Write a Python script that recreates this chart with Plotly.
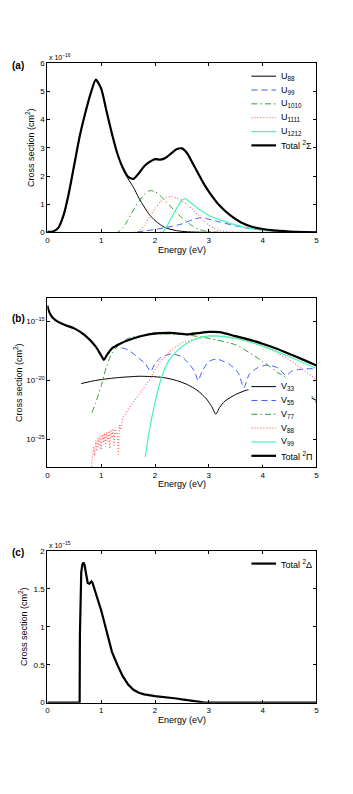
import plotly.graph_objects as go

# ---------------- Panel (a): 2Sigma, units of 1e-16 cm^2 ----------------
a_total_x = [0, 0.1, 0.2, 0.3, 0.4, 0.5, 0.6, 0.7, 0.8, 0.9, 1.0, 1.1, 1.2, 1.3, 1.4, 1.5, 1.6, 1.7, 1.8, 1.9,
             2.0, 2.1, 2.2, 2.3, 2.4, 2.5, 2.6, 2.7, 2.8, 2.9, 3.0, 3.2, 3.4, 3.6, 3.8, 4.0, 4.2, 4.5, 4.8, 5.0]
a_total_y = [0.02, 0.03, 0.15, 0.6, 1.4, 2.4, 3.4, 4.2, 4.9, 5.42, 5.1, 4.3, 3.5, 2.8, 2.3, 1.97, 1.9, 2.1, 2.35, 2.5,
             2.6, 2.58, 2.65, 2.8, 2.95, 2.98, 2.8, 2.45, 2.1, 1.75, 1.45, 0.95, 0.6, 0.35, 0.2, 0.12, 0.07, 0.03, 0.01, 0.0]

u88_x = [0, 0.1, 0.2, 0.3, 0.4, 0.5, 0.6, 0.7, 0.8, 0.9, 1.0, 1.1, 1.2, 1.3, 1.4, 1.5, 1.6, 1.7, 1.8, 1.9,
         2.0, 2.1, 2.2, 2.4, 2.6, 3.0, 5.0]
u88_y = [0.02, 0.03, 0.15, 0.6, 1.4, 2.4, 3.4, 4.2, 4.9, 5.42, 5.1, 4.3, 3.5, 2.8, 2.28, 1.9, 1.6, 1.22, 0.9, 0.62,
         0.42, 0.27, 0.16, 0.06, 0.02, 0.0, 0.0]

u99_x = [0, 1.6, 1.8, 2.0, 2.2, 2.5, 2.7, 2.85, 3.0, 3.2, 3.5, 3.8, 4.2, 4.6, 5.0]
u99_y = [0, 0.0, 0.05, 0.1, 0.17, 0.3, 0.45, 0.52, 0.47, 0.37, 0.23, 0.12, 0.05, 0.0, 0.0]

u1010_x = [0, 1.3, 1.4, 1.5, 1.6, 1.7, 1.8, 1.9, 2.0, 2.1, 2.2, 2.3, 2.4, 2.5, 2.6, 2.7, 2.8, 2.9, 3.0, 3.2, 5.0]
u1010_y = [0, 0.0, 0.15, 0.45, 0.8, 1.1, 1.35, 1.48, 1.45, 1.3, 1.1, 0.9, 0.7, 0.52, 0.36, 0.22, 0.12, 0.06, 0.03, 0.0, 0.0]

u1111_x = [0, 1.6, 1.7, 1.8, 1.9, 2.0, 2.1, 2.2, 2.3, 2.4, 2.5, 2.6, 2.7, 2.8, 2.9, 3.0, 3.1, 3.2, 3.4, 5.0]
u1111_y = [0, 0.0, 0.05, 0.25, 0.55, 0.85, 1.08, 1.24, 1.27, 1.22, 1.12, 0.98, 0.8, 0.6, 0.42, 0.26, 0.14, 0.07, 0.01, 0.0]

u1212_x = [0, 2.1, 2.15, 2.2, 2.3, 2.4, 2.5, 2.55, 2.6, 2.7, 2.8, 2.9, 3.0, 3.2, 3.4, 3.6, 3.8, 4.0, 4.2, 4.5, 5.0]
u1212_y = [0, 0.0, 0.02, 0.15, 0.5, 0.85, 1.15, 1.2, 1.15, 1.0, 0.85, 0.72, 0.6, 0.45, 0.32, 0.21, 0.13, 0.08, 0.04, 0.01, 0.0]

a_names = ["U<sub>88</sub>", "U<sub>99</sub>", "U<sub>1010</sub>", "U<sub>1111</sub>", "U<sub>1212</sub>",
           "Total <sup>2</sup>Σ"]

# ---------------- Panel (b): 2Pi, log10 of cross section ----------------
b_total_x = [0, 0.02, 0.05, 0.1, 0.2, 0.35, 0.5, 0.7, 0.9, 1.0, 1.05, 1.1, 1.2, 1.35, 1.5, 1.75, 2.0, 2.3, 2.6, 2.8,
             3.0, 3.2, 3.5, 3.75, 4.0, 4.25, 4.5, 4.75, 5.0]
b_total_e = [-13.66, -14.0, -14.36, -14.7, -15.05, -15.35, -15.6, -16.2, -17.15, -17.9, -18.27, -17.9, -17.3, -16.9,
             -16.6, -16.25, -16.03, -15.98, -16.1, -16.0, -15.9, -15.92, -16.26, -16.55, -16.9, -17.3, -17.77, -18.25, -18.75]

v33_x = [0.63, 0.8, 1.0, 1.3, 1.7, 2.0, 2.2, 2.4, 2.6, 2.8, 2.95, 3.05, 3.13, 3.2, 3.3, 3.5, 3.7, 4.0, 4.5, 4.9, 5.0]
v33_e = [-20.28, -20.1, -19.94, -19.78, -19.66, -19.7, -19.8, -20.02, -20.36, -20.9, -21.55, -22.2, -22.88, -22.3,
         -21.76, -21.2, -20.84, -20.6, -20.9, -21.5, -21.7]

v55_x = [1.2, 1.3, 1.5, 1.7, 1.82, 1.92, 2.0, 2.1, 2.3, 2.5, 2.65, 2.74, 2.8, 2.88, 3.0, 3.15, 3.4, 3.55, 3.65, 3.75,
         3.9, 4.1, 4.3, 4.43, 4.55, 4.75, 5.0]
v55_e = [-17.2, -17.15, -17.43, -18.13, -18.6, -19.25, -18.6, -18.1, -17.77, -18.0, -18.7, -19.3, -20.03, -19.2, -18.4,
         -18.2, -18.7, -19.4, -20.64, -19.5, -18.95, -18.7, -19.0, -19.6, -19.2, -19.05, -19.0]

v77_x = [0.83, 0.9, 1.0, 1.1, 1.2, 1.3, 1.5, 2.0, 2.5, 3.0, 3.5, 4.0, 4.3, 4.4, 4.6, 4.8, 4.95, 5.0]
v77_e = [-22.74, -21.9, -20.5, -18.8, -17.7, -17.15, -16.45, -16.1, -16.1, -16.45, -17.0, -18.4, -19.4, -19.66,
         -20.5, -21.0, -21.5, -22.1]

v88_x = [0.82, 0.84, 0.86, 0.88, 0.90, 0.92, 0.94, 0.96, 0.98, 1.00, 1.02, 1.04, 1.06, 1.08, 1.10, 1.12, 1.14, 1.16,
         1.18, 1.20, 1.22, 1.24, 1.26, 1.28, 1.30, 1.32, 1.34, 1.36, 1.38, 1.40, 1.45, 1.5, 1.7, 1.9, 2.0, 2.1, 2.3,
         2.5, 2.8, 3.0, 3.3, 3.6, 4.0, 4.5, 5.0]
v88_e = [-27.3, -26.2, -25.6, -26.4, -25.1, -26.0, -24.9, -25.7, -24.7, -25.9, -24.6, -25.3, -24.5, -25.6, -24.4,
         -25.2, -24.3, -25.8, -24.2, -24.9, -24.1, -25.5, -24.0, -24.6, -24.5, -26.3, -23.8, -24.2, -23.5, -23.2,
         -22.9, -22.46, -21.2, -19.94, -19.1, -18.4, -17.43, -16.82, -16.45, -16.26, -16.26, -16.45, -17.0, -18.27, -19.94]

v99_x = [1.82, 1.9, 2.0, 2.1, 2.2, 2.3, 2.5, 2.7, 2.9, 3.1, 3.5, 4.0, 4.5, 5.0]
v99_e = [-26.5, -24.13, -21.9, -20.08, -18.83, -18.04, -17.15, -16.6, -16.3, -16.23, -16.45, -17.1, -18.0, -19.0]

b_names = ["V<sub>33</sub>", "V<sub>55</sub>", "V<sub>77</sub>", "V<sub>88</sub>", "V<sub>99</sub>",
           "Total <sup>2</sup>Π"]

# ---------------- Panel (c): 2Delta, units of 1e-15 cm^2 ----------------
c_x = [0, 0.6, 0.605, 0.615, 0.63, 0.65, 0.67, 0.69, 0.71, 0.73, 0.75, 0.78, 0.8, 0.82, 0.84, 0.86, 0.9, 0.95, 1.0,
       1.05, 1.1, 1.2, 1.3, 1.4, 1.5, 1.6, 1.7, 1.8, 2.0, 2.2, 2.4, 2.5, 2.6, 2.7, 2.8, 2.9, 3.0, 5.0]
c_y = [0, 0.0, 0.9, 1.62, 1.72, 1.82, 1.85, 1.82, 1.72, 1.62, 1.58, 1.57, 1.59, 1.6, 1.58, 1.54, 1.45, 1.33, 1.22,
       1.08, 0.93, 0.67, 0.5, 0.35, 0.24, 0.17, 0.13, 0.11, 0.087, 0.074, 0.055, 0.043, 0.032, 0.02, 0.01, 0.004, 0.0, 0.0]
c_names = ["Total <sup>2</sup>Δ"]

x_ticks = [0, 1, 2, 3, 4, 5]
a_ticks = [0, 1, 2, 3, 4, 5, 6]
b_ticks_exp = [-25, -20, -15]
c_ticks = [0, 0.5, 1, 1.5, 2]
c_ticktext = ["0", "0.5", "1", "1.5", "2"]

BLUE = "#3a5cff"
GREEN = "#2ca02c"
RED = "#ff6b6b"
CYAN = "#45f5b0"
FONT = "Liberation Sans"
W, H = 353, 794

DOT = "1px,2px"
DASH = "6px,4px"
DASHDOT = "6px,3px,1.5px,3px"

styles = [("black", 1, "solid"), (BLUE, 1, DASH), (GREEN, 1, DASHDOT), (RED, 1.2, DOT), (CYAN, 1.2, "solid"),
          ("black", 2.2, "solid")]

fig = go.Figure()


def add(x, y, st, xa, ya, spline=True):
    color, width, dash = st
    line = dict(color=color, width=width, dash=dash)
    if spline:
        line.update(shape="spline", smoothing=0.6)
    fig.add_trace(go.Scatter(x=x, y=y, mode="lines", line=line, xaxis=xa, yaxis=ya, showlegend=False,
                             hoverinfo="skip"))


def p10(e):
    return [10.0 ** v for v in e]


# panel a
for (xs, ys), st in zip([(u88_x, u88_y), (u99_x, u99_y), (u1010_x, u1010_y), (u1111_x, u1111_y),
                          (u1212_x, u1212_y), (a_total_x, a_total_y)], styles):
    add(xs, ys, st, "x", "y")

# panel b
for (xs, es), st in zip([(v33_x, v33_e), (v55_x, v55_e), (v77_x, v77_e), (v88_x, v88_e),
                          (v99_x, v99_e), (b_total_x, b_total_e)], styles):
    add(xs, p10(es), st, "x2", "y2", spline=(xs is not v88_x))

# panel c
add(c_x, c_y, ("black", 2.2, "solid"), "x3", "y3", spline=False)

XD = [0.1303, 0.9037]
DOM_A = [0.7091, 0.9244]
DOM_B = [0.4102, 0.6251]
DOM_C = [0.1100, 0.3031]

axis_common = dict(showline=True, linecolor="black", linewidth=1, mirror="allticks", ticks="inside",
                   ticklen=3, tickcolor="black", showgrid=False, zeroline=False,
                   tickfont=dict(size=8, family=FONT, color="black"))


def xaxis(anchor):
    return dict(axis_common, domain=XD, anchor=anchor, range=[0, 5], tickvals=x_ticks,
                title=dict(text="Energy (eV)", font=dict(size=9, family=FONT, color="black"), standoff=2))


fig.update_layout(
    width=W, height=H, margin=dict(l=0, r=0, t=0, b=0),
    paper_bgcolor="white", plot_bgcolor="white",
    font=dict(family=FONT, color="black"),
    xaxis=xaxis("y"), xaxis2=xaxis("y2"), xaxis3=xaxis("y3"),
    yaxis=dict(axis_common, domain=DOM_A, anchor="x", range=[0, 6], tickvals=a_ticks,
               title=dict(text="Cross section (cm<sup>2</sup>)", font=dict(size=9, family=FONT), standoff=4)),
    yaxis2=dict(axis_common, domain=DOM_B, anchor="x2", type="log", range=[-27.35, -13.05],
                tickvals=[10.0 ** e for e in b_ticks_exp],
                ticktext=["10<sup>−%d</sup>" % (-e) for e in b_ticks_exp],
                title=dict(text="Cross section (cm<sup>2</sup>)", font=dict(size=9, family=FONT), standoff=2)),
    yaxis3=dict(axis_common, domain=DOM_C, anchor="x3", range=[0, 2], tickvals=c_ticks, ticktext=c_ticktext,
                title=dict(text="Cross section (cm<sup>2</sup>)", font=dict(size=9, family=FONT), standoff=4)),
    showlegend=False,
)

# white legend background in panel (b), covering the curves beneath it
fig.add_shape(type="rect", xref="paper", yref="paper", x0=250 / W, x1=314 / W, y0=1 - 466 / H, y1=1 - 379 / H,
              fillcolor="white", line=dict(width=0), layer="above")


def legend(names, sts, y0):
    for i, (nm, st) in enumerate(zip(names, sts)):
        yy = 1 - (y0 + 14 * i) / H
        color, width, dash = st
        fig.add_shape(type="line", xref="paper", yref="paper", x0=253 / W, x1=278 / W, y0=yy, y1=yy,
                      line=dict(color=color, width=width, dash=dash), layer="above")
        fig.add_annotation(text=nm, x=281 / W, y=yy, xref="paper", yref="paper", xanchor="left",
                           yanchor="middle", showarrow=False, font=dict(size=9, family=FONT, color="black"))


legend(a_names, styles, 73)
legend(b_names, styles, 387)
legend(c_names, [("black", 2.2, "solid")], 566)

ann_font = dict(size=10, family=FONT, color="black")
for lab, ypx in [("<b>(a)</b>", 62), ("<b>(b)</b>", 318), ("<b>(c)</b>", 555)]:
    fig.add_annotation(text=lab, x=8 / W, y=1 - ypx / H, xref="paper", yref="paper",
                       xanchor="left", yanchor="middle", showarrow=False, font=ann_font)
fig.add_annotation(text="x 10<sup>−16</sup>", x=XD[0], y=DOM_A[1], xref="paper", yref="paper",
                   xanchor="left", yanchor="bottom", showarrow=False, font=dict(size=7, family=FONT))
fig.add_annotation(text="x 10<sup>−15</sup>", x=XD[0], y=DOM_C[1], xref="paper", yref="paper",
                   xanchor="left", yanchor="bottom", showarrow=False, font=dict(size=7, family=FONT))

fig.write_html("out.html", config={"displayModeBar": False, "staticPlot": True},
               post_script="document.body.style.margin='0';document.body.style.overflow='hidden';")
